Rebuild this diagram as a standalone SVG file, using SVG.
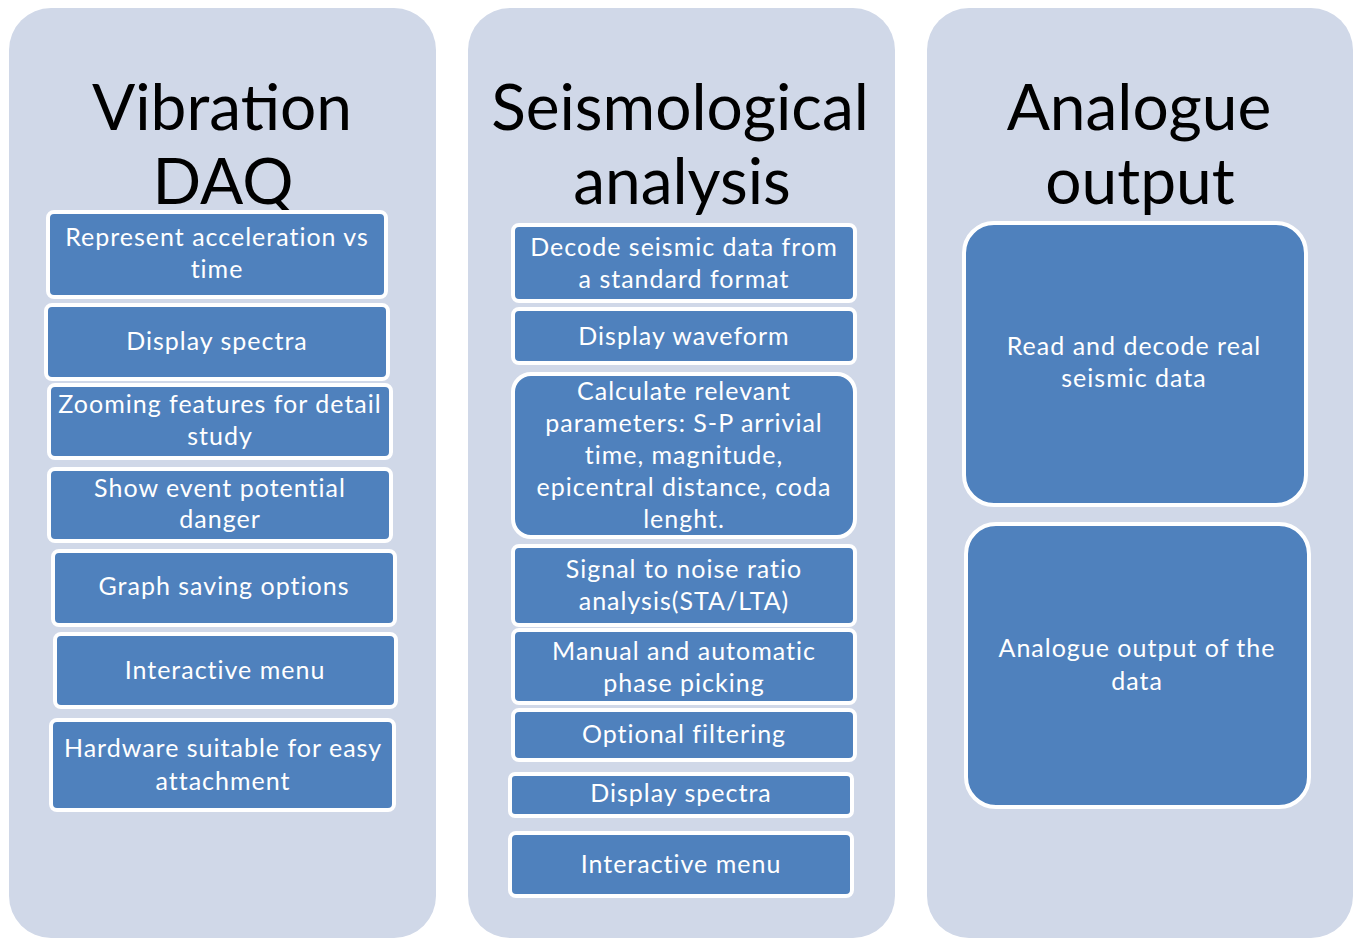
<svg xmlns="http://www.w3.org/2000/svg" width="1359" height="938" viewBox="0 0 1359 938">
<style>
.panel{fill:#D0D8E8}
.box{fill:#4F81BD;stroke:#FFFFFF;stroke-width:4}
.title{font-family:Lato,"Liberation Sans",sans-serif;font-size:64px;fill:#000;text-anchor:middle}
.lbl{font-family:Lato,"Liberation Sans",sans-serif;font-size:25px;letter-spacing:1px;fill:#FFFFFF;text-anchor:middle}
</style>
<rect width="1359" height="938" fill="#FFFFFF"/>
<g id="panel-vibration">
<rect class="panel" x="9" y="8" width="427" height="930" rx="42"/>
<text class="title" x="222" y="130">Vibration</text>
<text class="title" x="223" y="204">DAQ</text>
</g>
<g id="panel-seismological">
<rect class="panel" x="468" y="8" width="427" height="930" rx="42"/>
<text class="title" x="680" y="130">Seismological</text>
<text class="title" x="682" y="204">analysis</text>
</g>
<g id="panel-analogue">
<rect class="panel" x="927" y="8" width="426" height="930" rx="42"/>
<text class="title" x="1139" y="130">Analogue</text>
<text class="title" x="1140" y="204">output</text>
</g>
<g id="connectors"></g>
<g id="v1"><rect class="box" x="48" y="212" width="338" height="85" rx="6"/><text class="lbl" x="217" y="246">Represent acceleration vs</text><text class="lbl" x="217" y="278">time</text></g>
<g id="v2"><rect class="box" x="46" y="305" width="342" height="74" rx="6"/><text class="lbl" x="217" y="350">Display spectra</text></g>
<g id="v3"><rect class="box" x="49" y="385" width="342" height="73" rx="6"/><text class="lbl" x="220" y="413">Zooming features for detail</text><text class="lbl" x="220" y="445">study</text></g>
<g id="v4"><rect class="box" x="49" y="469" width="342" height="72" rx="6"/><text class="lbl" x="220" y="497">Show event potential</text><text class="lbl" x="220" y="528">danger</text></g>
<g id="v5"><rect class="box" x="53" y="551" width="342" height="74" rx="6"/><text class="lbl" x="224" y="595">Graph saving options</text></g>
<g id="v6"><rect class="box" x="55" y="634" width="341" height="73" rx="6"/><text class="lbl" x="225" y="679">Interactive menu</text></g>
<g id="v7"><rect class="box" x="51" y="720" width="343" height="90" rx="6"/><text class="lbl" x="223" y="757">Hardware suitable for easy</text><text class="lbl" x="223" y="790">attachment</text></g>
<g id="s1"><rect class="box" x="513" y="225" width="342" height="76" rx="6"/><text class="lbl" x="684" y="256">Decode seismic data from</text><text class="lbl" x="684" y="288">a standard format</text></g>
<g id="s2"><rect class="box" x="513" y="309" width="342" height="54" rx="6"/><text class="lbl" x="684" y="345">Display waveform</text></g>
<g id="s3"><rect class="box" x="513" y="374" width="342" height="163" rx="18"/><text class="lbl" x="684" y="400">Calculate relevant</text><text class="lbl" x="684" y="432">parameters: S-P arrivial</text><text class="lbl" x="684" y="464">time, magnitude,</text><text class="lbl" x="684" y="496">epicentral distance, coda</text><text class="lbl" x="684" y="528">lenght.</text></g>
<g id="s4"><rect class="box" x="513" y="546" width="342" height="79" rx="6"/><text class="lbl" x="684" y="578">Signal to noise ratio</text><text class="lbl" x="684" y="610">analysis(STA/LTA)</text></g>
<g id="s5"><rect class="box" x="513" y="630" width="342" height="73" rx="6"/><text class="lbl" x="684" y="660">Manual and automatic</text><text class="lbl" x="684" y="692">phase picking</text></g>
<g id="s6"><rect class="box" x="513" y="710" width="342" height="50" rx="6"/><text class="lbl" x="684" y="743">Optional filtering</text></g>
<g id="s7"><rect class="box" x="510" y="774" width="342" height="42" rx="5"/><text class="lbl" x="681" y="802">Display spectra</text></g>
<g id="s8"><rect class="box" x="510" y="833" width="342" height="63" rx="6"/><text class="lbl" x="681" y="873">Interactive menu</text></g>
<g id="a1"><rect class="box" x="964" y="223" width="342" height="282" rx="30"/><text class="lbl" x="1134" y="355">Read and decode real</text><text class="lbl" x="1134" y="387">seismic data</text></g>
<g id="a2"><rect class="box" x="966" y="524" width="343" height="283" rx="30"/><text class="lbl" x="1137" y="657">Analogue output of the</text><text class="lbl" x="1137" y="690">data</text></g>
</svg>
